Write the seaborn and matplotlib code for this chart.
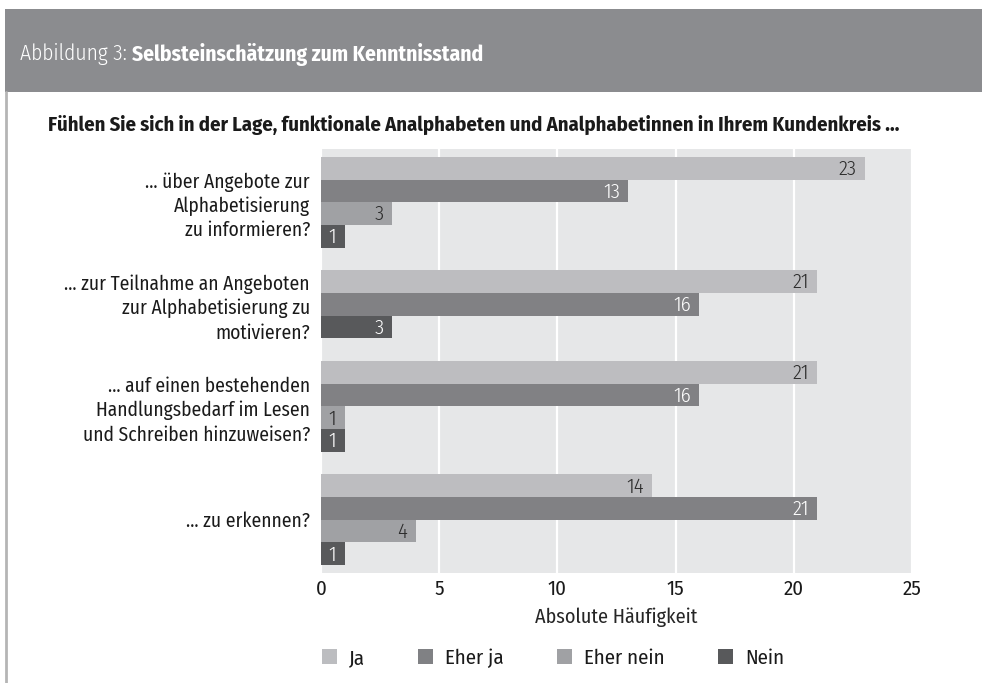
import matplotlib
matplotlib.use("Agg")
import matplotlib.pyplot as plt
from matplotlib.patches import Patch, Rectangle
from matplotlib.lines import Line2D
import seaborn as sns
import pandas as pd

# data
questions = [
    "… über Angebote zur\nAlphabetisierung\nzu informieren?",
    "… zur Teilnahme an Angeboten\nzur Alphabetisierung zu\nmotivieren?",
    "… auf einen bestehenden\nHandlungsbedarf im Lesen\nund Schreiben hinzuweisen?",
    "… zu erkennen?",
]
answers = ["Ja", "Eher ja", "Eher nein", "Nein"]
ja = [23, 21, 21, 14]
eher_ja = [13, 16, 16, 21]
eher_nein = [3, None, 1, 4]
nein = [1, 3, 1, 1]

bar_colors = {"Ja": "#bcbdc0", "Eher ja": "#808184", "Eher nein": "#a0a1a4", "Nein": "#58595b"}
text_colors = {"Ja": "#2b2b2b", "Eher ja": "white", "Eher nein": "#2b2b2b", "Nein": "white"}

# one row per bar, empty answers are skipped, one blank row between questions
rows = []
centers = []
slot = 0
for i in range(len(questions)):
    start = slot
    for a, vals in zip(answers, [ja, eher_ja, eher_nein, nein]):
        if vals[i] is None:
            continue
        rows.append({"frage": i, "antwort": a, "anzahl": vals[i], "zeile": slot})
        slot += 1
    centers.append((start + slot - 1) / 2)
    slot += 1
df = pd.DataFrame(rows)

sns.set_theme(style="darkgrid", rc={
    "axes.facecolor": "#e6e7e8",
    "grid.color": "white",
    "grid.linewidth": 1.6,
})
plt.rcParams["font.family"] = ["Fira Sans Condensed", "DejaVu Sans"]
plt.rcParams["text.color"] = "#1a1a1a"

fig = plt.figure(figsize=(9.82, 6.83), dpi=100)
ax = fig.add_axes([0.3269, 0.1611, 0.6018, 0.6208])

sns.barplot(data=df, x="anzahl", y="zeile", hue="antwort", hue_order=answers,
            palette=bar_colors, orient="h", native_scale=True, dodge=False,
            width=1.0, linewidth=0, errorbar=None, legend=False, ax=ax)

for _, r in df.iterrows():
    ax.text(r["anzahl"] - 0.35, r["zeile"] + 0.05, str(r["anzahl"]), ha="right", va="center",
            fontsize=15, fontweight=300, color=text_colors[r["antwort"]])

ax.set_xlim(0, 25)
ax.set_xticks([0, 5, 10, 15, 20, 25])
ax.set_ylim(df["zeile"].max() + 0.85, -0.85)
ax.set_yticks(centers)
ax.set_yticklabels(questions, ha="right", fontsize=14, linespacing=1.3)
ax.grid(axis="y", visible=False)
ax.tick_params(axis="x", labelsize=15, pad=5, length=0, colors="#1a1a1a")
ax.tick_params(axis="y", pad=8, length=0, colors="#1a1a1a")
ax.set_xlabel("Absolute Häufigkeit", fontsize=14.5, labelpad=6)
ax.set_ylabel("")
for s in ax.spines.values():
    s.set_visible(False)

# header band
fig.add_artist(Rectangle((5 / 982, 1 - 92 / 683), 1, 83 / 683, transform=fig.transFigure,
                         facecolor="#8b8c8f", edgecolor="none"))
fig.add_artist(Line2D([6 / 982, 6 / 982], [0, 1 - 92 / 683], transform=fig.transFigure,
                      color="#b5b5b5", linewidth=2))
t1 = fig.text(20 / 982, 1 - 54 / 683, "Abbildung 3: ", color="white", fontsize=15.5,
              fontweight=300, va="center")
renderer = fig.canvas.get_renderer()
bb = t1.get_window_extent(renderer).transformed(fig.transFigure.inverted())
fig.text(bb.x1, 1 - 54 / 683, "Selbsteinschätzung zum Kenntnisstand", color="white",
         fontsize=15.5, fontweight="bold", va="center")

fig.text(48 / 982, 1 - 125 / 683,
         "Fühlen Sie sich in der Lage, funktionale Analphabeten und Analphabetinnen in Ihrem Kundenkreis …",
         fontsize=14.8, fontweight="bold", va="center")

handles = [Patch(facecolor=bar_colors[a], edgecolor="none", label=a) for a in answers]
fig.legend(handles=handles, loc="center left", bbox_to_anchor=(303 / 982, 1 - 658 / 683),
           ncol=4, frameon=False, fontsize=15,
           handlelength=0.72, handleheight=0.72, handletextpad=0.58, columnspacing=2.55)

fig.savefig("out.png", dpi=100, facecolor="white")
